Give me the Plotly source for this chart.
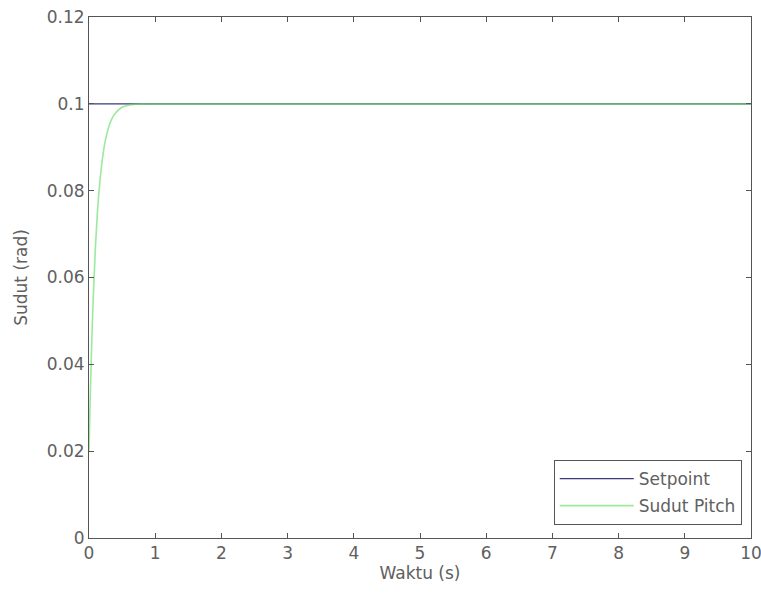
import plotly.graph_objects as go

# data
t_setpoint = [0, 10]
y_setpoint = [0.1, 0.1]

t_pitch = [0, 0.01, 0.02, 0.035, 0.05, 0.075, 0.1, 0.125, 0.15, 0.2, 0.25, 0.3, 0.35, 0.4, 0.5, 0.6, 0.7, 0.8, 1.0, 2, 3, 4, 5, 6, 7, 8, 9, 10]
y_pitch = [0.02, 0.027, 0.0332, 0.0415, 0.0492, 0.0595, 0.0678, 0.0745, 0.0796, 0.0870, 0.0918, 0.0948, 0.0967, 0.0979, 0.0992, 0.0997, 0.0999, 0.1, 0.1, 0.1, 0.1, 0.1, 0.1, 0.1, 0.1, 0.1, 0.1, 0.1]

x_ticks = list(range(0, 11))
y_ticks = [0, 0.02, 0.04, 0.06, 0.08, 0.1, 0.12]
y_ticklabels = ["0", "0.02", "0.04", "0.06", "0.08", "0.1", "0.12"]

FONT = "DejaVu Sans, Verdana, sans-serif"
TXT = "#606060"

fig = go.Figure()
fig.add_trace(go.Scatter(x=t_setpoint, y=y_setpoint, mode="lines", name="Setpoint",
                         legendgroup="a", line=dict(color="#3a3a78", width=1.3)))
fig.add_trace(go.Scatter(x=t_pitch, y=y_pitch, mode="lines", name="Sudut Pitch",
                         legendgroup="b",
                         line=dict(color="#5cdc5c", width=1.6, shape="spline"), opacity=0.6))

axis_common = dict(showline=True, linecolor="#555555", linewidth=1, mirror="ticks",
                   ticks="inside", ticklen=5, tickcolor="#555555", showgrid=False,
                   zeroline=False, automargin=False, ticklabeloverflow="allow",
                   tickfont=dict(family=FONT, size=17, color=TXT))

fig.update_xaxes(range=[0, 10], tickvals=x_ticks,
                 title=dict(text="Waktu (s)", standoff=4, font=dict(family=FONT, size=17, color=TXT)),
                 **axis_common)
fig.update_yaxes(range=[0, 0.12], tickvals=y_ticks, ticktext=y_ticklabels,
                 title=dict(text="Sudut (rad)", standoff=14, font=dict(family=FONT, size=17, color=TXT)),
                 **axis_common)

fig.update_layout(
    width=761, height=595,
    margin=dict(l=89, r=10, t=17, b=57),
    plot_bgcolor="white", paper_bgcolor="white",
    font=dict(family=FONT, color=TXT),
    legend=dict(x=0.986, y=0.025, xanchor="right", yanchor="bottom",
                bordercolor="#555555", borderwidth=1, bgcolor="white",
                font=dict(size=17, color=TXT), tracegroupgap=2, itemwidth=74),
)

fig.write_html("out.html")
